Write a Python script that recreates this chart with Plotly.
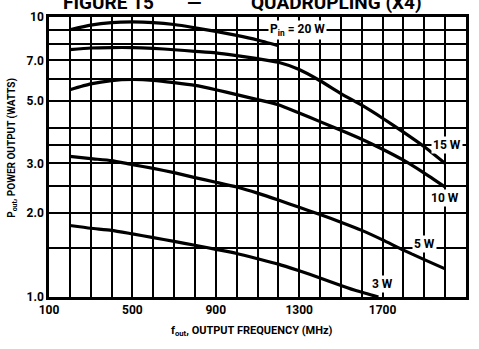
import numpy as np
import plotly.graph_objects as go

# ---- data ----
freq_20w = [200, 300, 400, 500, 600, 700, 800, 900, 1000, 1100, 1200]
pout_20w = [9.0, 9.35, 9.55, 9.6, 9.55, 9.4, 9.15, 8.88, 8.6, 8.28, 7.9]

freq_15w = [200, 300, 400, 500, 600, 700, 800, 900, 1000, 1100, 1200, 1300, 1400, 1500, 1600, 1700, 1800, 1900, 2000]
pout_15w = [7.65, 7.75, 7.78, 7.78, 7.73, 7.64, 7.54, 7.44, 7.28, 7.1, 6.89, 6.49, 5.92, 5.33, 4.84, 4.35, 3.88, 3.44, 3.0]

freq_10w = [200, 300, 400, 500, 600, 700, 800, 900, 1000, 1100, 1200, 1300, 1400, 1500, 1600, 1700, 1800, 1900, 2000]
pout_10w = [5.5, 5.77, 5.93, 5.98, 5.94, 5.83, 5.7, 5.5, 5.28, 5.07, 4.86, 4.54, 4.23, 3.94, 3.66, 3.37, 3.08, 2.77, 2.47]

freq_5w = [200, 300, 400, 500, 600, 700, 800, 900, 1000, 1100, 1200, 1300, 1400, 1500, 1600, 1700, 1800, 1900, 2000]
pout_5w = [3.18, 3.12, 3.07, 2.97, 2.88, 2.78, 2.67, 2.57, 2.47, 2.35, 2.22, 2.09, 1.97, 1.85, 1.73, 1.6, 1.47, 1.36, 1.26]

freq_3w = [200, 300, 400, 500, 600, 700, 800, 900, 1000, 1100, 1200, 1300, 1400, 1500, 1580, 1680]
pout_3w = [1.80, 1.76, 1.73, 1.68, 1.63, 1.58, 1.53, 1.48, 1.43, 1.37, 1.31, 1.24, 1.17, 1.1, 1.05, 1.0]

x_grid = list(range(100, 2101, 100))
x_labels = [100, 500, 900, 1300, 1700, 2100]
y_grid = [1, 1.5, 2, 2.5, 3, 3.5, 4, 5, 6, 7, 8, 9, 10]
y_labels = {1: "1.0", 2: "2.0", 3: "3.0", 5: "5.0", 7: "7.0", 10: "10"}

curve_labels = [
    ("P<sub>in</sub> = 20 W", 1290, 9.0),
    ("15 W", 2010, 3.5),
    ("10 W", 2000, 2.25),
    ("5 W", 1900, 1.55),
    ("3 W", 1700, 1.11),
]

FONT = "Roboto, Liberation Sans, sans-serif"

fig = go.Figure()
for fx, py in [(freq_20w, pout_20w), (freq_15w, pout_15w), (freq_10w, pout_10w),
               (freq_5w, pout_5w), (freq_3w, pout_3w)]:
    fig.add_trace(go.Scatter(x=fx, y=py, mode="lines",
                             line=dict(color="black", width=3.2, shape="spline", smoothing=0.5),
                             showlegend=False, hoverinfo="skip"))

fig.update_xaxes(
    range=[100, 2100], tickvals=x_grid,
    ticktext=[str(v) if v in x_labels else "" for v in x_grid],
    showgrid=True, gridcolor="black", gridwidth=1.6,
    showline=True, linecolor="black", linewidth=2.5, mirror=True,
    ticks="", zeroline=False,
    tickfont=dict(family=FONT, size=12, color="black", weight="bold"),
)
fig.update_yaxes(
    type="log", range=[0, 1], tickvals=y_grid,
    ticktext=[y_labels.get(v, "") for v in y_grid],
    showgrid=True, gridcolor="black", gridwidth=1.6,
    showline=True, linecolor="black", linewidth=2.5, mirror=True,
    ticks="", zeroline=False,
    tickfont=dict(family=FONT, size=12, color="black", weight="bold"),
)

annotations = []
for text, fx, pv in curve_labels:
    annotations.append(dict(x=fx, y=np.log10(pv), xref="x", yref="y", text=text,
                            showarrow=False, bgcolor="white", borderpad=1,
                            font=dict(family=FONT, size=12, color="black", weight="bold")))

annotations.append(dict(x=0.488, y=-0.121, xref="paper", yref="paper",
                        text="f<sub>out</sub>, OUTPUT FREQUENCY (MHz)", showarrow=False,
                        xanchor="center", yanchor="middle",
                        font=dict(family=FONT, size=11, color="black", weight="bold")))
annotations.append(dict(x=-0.088, y=0.534, xref="paper", yref="paper", textangle=-90,
                        text="P<sub>out</sub>, POWER OUTPUT (WATTS)", showarrow=False,
                        xanchor="center", yanchor="middle",
                        font=dict(family=FONT, size=10, color="black", weight="bold")))

# partially visible figure caption at the very top
title_font = dict(family=FONT, size=19, color="black", weight="bold")
annotations.append(dict(x=0.257, y=1.05, xref="paper", yref="paper", text="FIGURE 15",
                        showarrow=False, xanchor="right", yanchor="middle", font=title_font))
annotations.append(dict(x=0.348, y=1.05, xref="paper", yref="paper", text="\u2014",
                        showarrow=False, xanchor="center", yanchor="middle", font=title_font))
annotations.append(dict(x=0.689, y=1.05, xref="paper", yref="paper", text="QUADRUPLING (X4)",
                        showarrow=False, xanchor="center", yanchor="middle", font=title_font))

fig.update_layout(
    width=479, height=349,
    margin=dict(l=49, r=10, t=16, b=52),
    paper_bgcolor="white", plot_bgcolor="white",
    annotations=annotations,
)

fig.write_html("out.html")
